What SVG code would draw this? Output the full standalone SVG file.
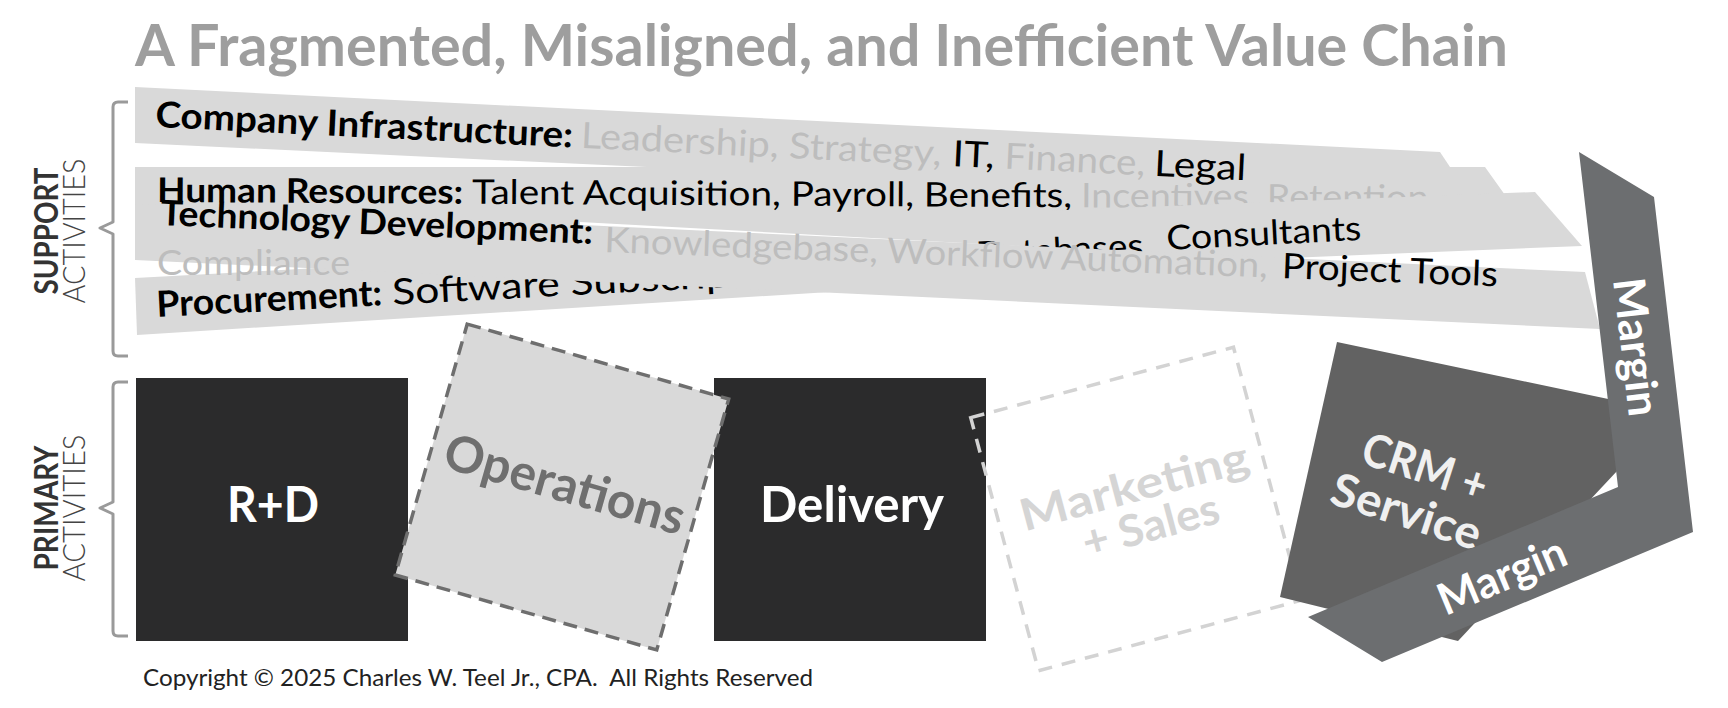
<svg xmlns="http://www.w3.org/2000/svg" width="1728" height="708" viewBox="0 0 1728 708">
<style>
text{font-family:Lato,'Open Sans','Liberation Sans',sans-serif}
.band{fill:#d9d9d9}
.b{font-weight:700;fill:#000}
.r{font-weight:400;fill:#000}
.g{font-weight:400;fill:#bdbdbd}
.dark{fill:#2b2b2c}
.wt{font-weight:700;fill:#fff;text-anchor:middle}
.brk{fill:none;stroke:#9a9a9a;stroke-width:3;stroke-linejoin:round}
.lab1{font-weight:700;fill:#333;text-anchor:middle}
.lab2{font-weight:300;fill:#444;text-anchor:middle}
</style>
<rect width="1728" height="708" fill="#fff"/>
<g id="title"><text x="135" y="66" font-size="57" font-weight="700" fill="#9e9e9e" textLength="1373" lengthAdjust="spacingAndGlyphs">A Fragmented, Misaligned, and Inefficient Value Chain</text></g>
<g id="brackets">
<path class="brk" d="M128,102 L118,102 Q113,102 113,107 L113,222 L100,228 L113,234 L113,351 Q113,356 118,356 L128,356"/>
<path class="brk" d="M128,382 L118,382 Q113,382 113,387 L113,502 L100,508 L113,514 L113,631 Q113,636 118,636 L128,636"/>
</g>
<g id="side-labels" font-size="32">
<text class="lab1" transform="translate(58,231) rotate(-90)" textLength="127" lengthAdjust="spacingAndGlyphs">SUPPORT</text>
<text class="lab2" transform="translate(85,231) rotate(-90)" textLength="145" lengthAdjust="spacingAndGlyphs">ACTIVITIES</text>
<text class="lab1" transform="translate(58,508) rotate(-90)" textLength="125" lengthAdjust="spacingAndGlyphs">PRIMARY</text>
<text class="lab2" transform="translate(85,508) rotate(-90)" textLength="147" lengthAdjust="spacingAndGlyphs">ACTIVITIES</text>
</g>
<g id="support-activities">
<polygon id="band-infrastructure" class="band" points="135,87 1440,152 1452,170 1452,205 135,143"/>
<polygon id="band-hr" class="band" points="135,167 1485,167 1510,202 1250,258 1000,245 580,222 580,226 135,226"/>
<g id="hr-text" font-size="34" transform="rotate(0.33,157,202)">
<text class="b" x="157" y="202" textLength="306" lengthAdjust="spacingAndGlyphs">Human Resources:</text>
<text class="r" x="472" y="202" textLength="600" lengthAdjust="spacingAndGlyphs">Talent Acquisition, Payroll, Benefits,</text>
<text class="g" x="1081" y="202" textLength="356" lengthAdjust="spacingAndGlyphs">Incentives, Retention,</text>
</g>
<polygon id="band-procurement-right" class="band" points="1040,211 1535,192 1582,246 1040,268"/>
<g id="procurement-right-text" font-size="34" transform="rotate(-3,1167,250)">
<text class="r" x="976" y="256" textLength="176" lengthAdjust="spacingAndGlyphs">Databases,</text>
<text class="r" x="1167" y="250" textLength="195" lengthAdjust="spacingAndGlyphs">Consultants</text>
</g>
<polygon id="band-procurement-left" class="band" points="135,278 830,240 830,292 137,335"/>
<g id="procurement-text" font-size="36" transform="rotate(-3,157,317)">
<text class="b" x="157" y="317" textLength="226" lengthAdjust="spacingAndGlyphs">Procurement:</text>
<text class="r" x="393" y="317" textLength="440" lengthAdjust="spacingAndGlyphs">Software Subscriptions,</text>
</g>
<polygon id="band-technology" class="band" points="135,204 1585,272 1600,329 135,260"/>
<g id="tech-text" font-size="35">
<text class="b" x="160" y="225" transform="rotate(2.5,160,225)" textLength="433" lengthAdjust="spacingAndGlyphs">Technology Development:</text>
<g transform="rotate(2.2,604,252)">
<text class="g" x="604" y="252" textLength="664" lengthAdjust="spacingAndGlyphs">Knowledgebase, Workflow Automation,</text>
<text class="r" x="1282" y="252" textLength="216" lengthAdjust="spacingAndGlyphs">Project Tools</text>
</g>
</g>
<g id="infrastructure-text" font-size="36" transform="rotate(2.8,155,127)">
<text class="b" x="155" y="127" textLength="418" lengthAdjust="spacingAndGlyphs">Company Infrastructure:</text>
<text class="g" x="581" y="127" textLength="361" lengthAdjust="spacingAndGlyphs">Leadership, Strategy,</text>
<text class="r" x="953" y="127" textLength="42" lengthAdjust="spacingAndGlyphs">IT,</text>
<text class="g" x="1005" y="127" textLength="141" lengthAdjust="spacingAndGlyphs">Finance,</text>
<text class="r" x="1155" y="127" textLength="92" lengthAdjust="spacingAndGlyphs">Legal</text>
</g>
<text id="hr-compliance" class="g" x="157" y="275" font-size="34" textLength="193" lengthAdjust="spacingAndGlyphs">Compliance</text>
</g>
<g id="rd">
<rect class="dark" x="136" y="378" width="272" height="263"/>
<text class="wt" x="273" y="522" font-size="49" textLength="92" lengthAdjust="spacingAndGlyphs">R+D</text>
</g>
<g id="delivery">
<rect class="dark" x="714" y="378" width="272" height="263"/>
<text class="wt" x="852" y="522" font-size="49" textLength="184" lengthAdjust="spacingAndGlyphs">Delivery</text>
</g>
<g id="marketing-sales" transform="translate(1136,509) rotate(-15)">
<rect x="-136" y="-131" width="272" height="262" fill="none" stroke="#d3d3d3" stroke-width="3.5" stroke-dasharray="14 10"/>
<g transform="translate(4,-2)">
<text x="0" y="-5" font-size="44" font-weight="700" fill="#d5d5d5" text-anchor="middle" textLength="235" lengthAdjust="spacingAndGlyphs">Marketing</text>
<text x="6" y="37" font-size="44" font-weight="700" fill="#d5d5d5" text-anchor="middle" textLength="140" lengthAdjust="spacingAndGlyphs">+ Sales</text>
</g>
</g>
<g id="operations" transform="translate(562,487) rotate(16)">
<rect x="-136" y="-130.5" width="272" height="261" fill="#d9d9d9" stroke="#6e6e6e" stroke-width="3.5" stroke-dasharray="14 8"/>
<text x="2" y="14" font-size="50" font-weight="700" fill="#6f6f6f" text-anchor="middle" textLength="248" lengthAdjust="spacingAndGlyphs">Operations</text>
</g>
<g id="crm-service">
<polygon points="1337,342 1632,404 1632,455 1458,641 1280,597" fill="#626262"/>
<g transform="translate(1418,489) rotate(18)">
<text x="0" y="-7" font-size="46" font-weight="700" fill="#f0f0f0" text-anchor="middle" textLength="129" lengthAdjust="spacingAndGlyphs">CRM +</text>
<text x="-4" y="41" font-size="46" font-weight="700" fill="#f0f0f0" text-anchor="middle" textLength="155" lengthAdjust="spacingAndGlyphs">Service</text>
</g>
</g>
<g id="margin">
<polygon points="1579,152 1654,197 1693,532 1382,662 1308,617 1618,487" fill="#6c6e70"/>
<text transform="translate(1636,347) rotate(83.4)" x="0" y="15" font-size="44" font-weight="700" fill="#fff" text-anchor="middle" textLength="139" lengthAdjust="spacingAndGlyphs">Margin</text>
<text transform="translate(1502,576) rotate(-22.7)" x="0" y="15" font-size="44" font-weight="700" fill="#fff" text-anchor="middle" textLength="135" lengthAdjust="spacingAndGlyphs">Margin</text>
</g>
<g id="connectors"></g>
<text id="copyright" x="143" y="686" font-size="23" fill="#222" xml:space="preserve" textLength="670" lengthAdjust="spacingAndGlyphs">Copyright © 2025 Charles W. Teel Jr., CPA.  All Rights Reserved</text>
</svg>
